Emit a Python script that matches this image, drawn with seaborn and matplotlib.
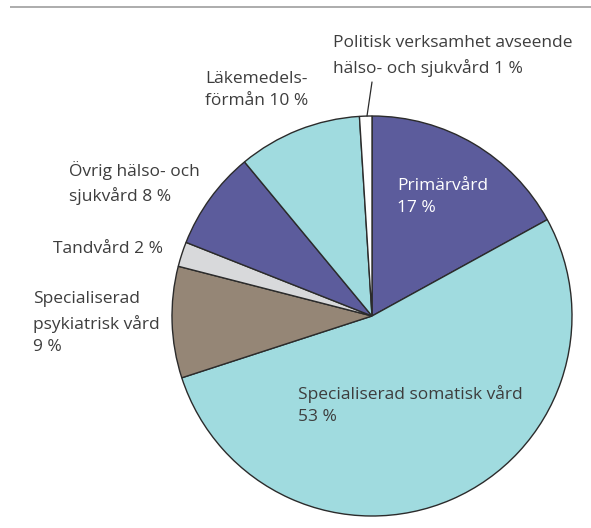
import matplotlib
matplotlib.use("Agg")
import matplotlib.pyplot as plt
import seaborn as sns

# andel av kostnaderna, medurs från klockan tolv
shares = [17, 53, 9, 2, 8, 10, 1]
names = ["Primärvård", "Specialiserad somatisk vård", "Specialiserad psykiatrisk vård",
         "Tandvård", "Övrig hälso- och sjukvård", "Läkemedelsförmån",
         "Politisk verksamhet avseende hälso- och sjukvård"]
colors = ["#5c5c9c", "#a0dbdf", "#958676", "#d8d9db", "#5c5c9c", "#a0dbdf", "#ffffff"]

sns.set_theme(style="white")
plt.rcParams["font.family"] = ["Open Sans", "DejaVu Sans"]

W, H = 591, 528
fig = plt.figure(figsize=(W / 100, H / 100), dpi=100)
ax = fig.add_axes([0, 0, 1, 1])

ax.pie(shares, colors=colors, startangle=90, counterclock=False,
       center=(372, H - 316), radius=200,
       wedgeprops=dict(edgecolor="#2b2b2b", linewidth=1.0))
ax.set_xlim(0, W)
ax.set_ylim(0, H)
ax.axis("off")

# gray rule at the top
ax.plot([10, W], [H - 7, H - 7], color="#a6a6a6", lw=1.3, solid_capstyle="butt")

txt = dict(fontsize=12.5, color="#3d3d3d", fontweight="normal", linespacing=1.55,
           va="center", ha="left")

ax.text(333, H - 56, "Politisk verksamhet avseende\nhälso- och sjukvård 1 %", **txt)
ax.plot([372, 367], [H - 82, H - 116], color="#2b2b2b", lw=0.9)
ax.text(205, H - 90, "Läkemedels-\nförmån 10 %", **txt)
ax.text(69, H - 183, "Övrig hälso- och\nsjukvård 8 %", **txt)
ax.text(53, H - 249, "Tandvård 2 %", **txt)
ax.text(33, H - 323, "Specialiserad\npsykiatrisk vård\n9 %", **txt)
ax.text(298, H - 405, "Specialiserad somatisk vård\n53 %", **txt)
ax.text(397, H - 197, "Primärvård\n17 %", **{**txt, "color": "white"})

fig.savefig("out.png", dpi=100)
